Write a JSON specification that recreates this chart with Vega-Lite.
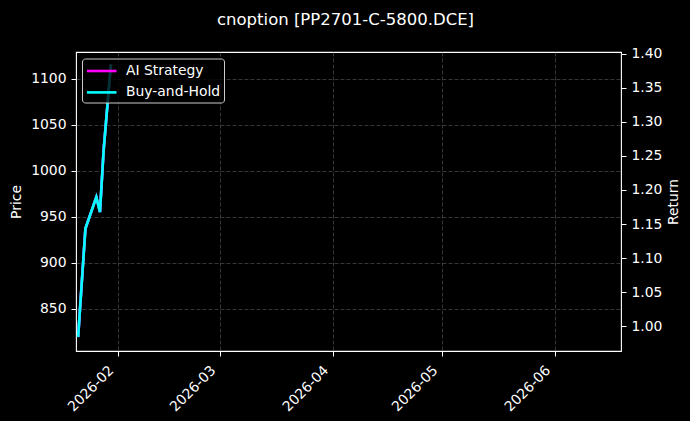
{
  "$schema": "https://vega.github.io/schema/vega-lite/v6.json",
  "description": "cnoption price and strategy returns, dark style with twin y axes",
  "width": 545,
  "height": 299,
  "autosize": {"type": "none"},
  "padding": {"left": 76, "top": 52, "right": 69, "bottom": 70},
  "background": "#000000",
  "title": {
    "text": "cnoption [PP2701-C-5800.DCE]",
    "color": "#ffffff",
    "font": "DejaVu Sans",
    "fontSize": 16.5,
    "fontWeight": "normal",
    "anchor": "middle",
    "baseline": "alphabetic",
    "offset": 5,
    "dx": -3
  },
  "datasets": {
    "price": [
      {"date": "2026-01-21T00:00:00", "price": 819.3},
      {"date": "2026-01-23T00:00:00", "price": 937.0},
      {"date": "2026-01-26T00:00:00", "price": 971.3},
      {"date": "2026-01-27T00:00:00", "price": 955.0},
      {"date": "2026-01-28T00:00:00", "price": 1022.1},
      {"date": "2026-01-30T00:00:00", "price": 1115.5}
    ],
    "returns": [
      {"date": "2026-01-21T00:00:00", "series": "AI Strategy", "ret": 0.9846},
      {"date": "2026-01-23T00:00:00", "series": "AI Strategy", "ret": 1.1433},
      {"date": "2026-01-26T00:00:00", "series": "AI Strategy", "ret": 1.1896},
      {"date": "2026-01-27T00:00:00", "series": "AI Strategy", "ret": 1.1676},
      {"date": "2026-01-28T00:00:00", "series": "AI Strategy", "ret": 1.2581},
      {"date": "2026-01-30T00:00:00", "series": "AI Strategy", "ret": 1.3843},
      {"date": "2026-01-21T00:00:00", "series": "Buy-and-Hold", "ret": 0.9846},
      {"date": "2026-01-23T00:00:00", "series": "Buy-and-Hold", "ret": 1.1433},
      {"date": "2026-01-26T00:00:00", "series": "Buy-and-Hold", "ret": 1.1896},
      {"date": "2026-01-27T00:00:00", "series": "Buy-and-Hold", "ret": 1.1676},
      {"date": "2026-01-28T00:00:00", "series": "Buy-and-Hold", "ret": 1.2581},
      {"date": "2026-01-30T00:00:00", "series": "Buy-and-Hold", "ret": 1.3843}
    ]
  },
  "encoding": {
    "x": {
      "field": "date",
      "type": "temporal",
      "title": null,
      "scale": {
        "domain": [
          {"year": 2026, "month": 1, "date": 20, "hours": 10},
          {"year": 2026, "month": 6, "date": 19, "hours": 3}
        ]
      },
      "axis": {
        "format": "%Y-%m",
        "tickCount": {"interval": "month", "step": 1},
        "labelAngle": -45,
        "labelAlign": "right",
        "labelBaseline": "middle",
        "labelPadding": 12,
        "labelOffset": -7,
        "grid": true
      }
    }
  },
  "layer": [
    {
      "data": {"name": "price"},
      "mark": {"type": "line", "color": "#00ffff", "strokeWidth": 2.6, "clip": true},
      "encoding": {
        "y": {
          "field": "price",
          "type": "quantitative",
          "title": "Price",
          "scale": {"domain": [804.3, 1128.9], "nice": false, "zero": false},
          "axis": {
            "orient": "left",
            "values": [850, 900, 950, 1000, 1050, 1100],
            "format": "d",
            "titlePadding": 7
          }
        }
      }
    },
    {
      "data": {"name": "returns"},
      "mark": {"type": "line", "strokeWidth": 2.6, "clip": true},
      "encoding": {
        "y": {
          "field": "ret",
          "type": "quantitative",
          "title": "Return",
          "scale": {"domain": [0.9638, 1.4023], "nice": false, "zero": false},
          "axis": {
            "orient": "right",
            "values": [1.0, 1.05, 1.1, 1.15, 1.2, 1.25, 1.3, 1.35, 1.4],
            "format": ".2f",
            "titleAngle": 270,
            "titleBaseline": "top",
            "titlePadding": 5
          }
        },
        "color": {
          "field": "series",
          "type": "nominal",
          "scale": {
            "domain": ["AI Strategy", "Buy-and-Hold"],
            "range": ["#ff00ff", "#00ffff"]
          },
          "legend": {
            "title": null,
            "orient": "none",
            "legendX": 6,
            "legendY": 6.5,
            "padding": 3,
            "fillColor": "rgba(0,0,0,0.8)",
            "strokeColor": "#cccccc",
            "cornerRadius": 3,
            "symbolType": "M-0.95,0L2.75,0",
            "symbolSize": 256,
            "symbolStrokeWidth": 2.6,
            "labelOffset": 22,
            "rowPadding": 4.4
          }
        },
        "order": {"field": "series", "sort": "ascending"}
      }
    }
  ],
  "resolve": {"scale": {"y": "independent"}, "axis": {"y": "independent"}},
  "config": {
    "view": {"stroke": "#ffffff", "strokeWidth": 1.1, "fill": "#000000"},
    "axis": {
      "domain": false,
      "tickColor": "#ffffff",
      "tickSize": 5,
      "tickWidth": 1,
      "labelColor": "#ffffff",
      "labelFont": "DejaVu Sans",
      "labelFontSize": 13.9,
      "labelPadding": 5,
      "titleColor": "#ffffff",
      "titleFont": "DejaVu Sans",
      "titleFontSize": 13.9,
      "titleFontWeight": "normal",
      "gridColor": "#5a5a5a",
      "gridDash": [4, 2],
      "gridWidth": 0.6
    },
    "legend": {
      "labelColor": "#ffffff",
      "labelFont": "DejaVu Sans",
      "labelFontSize": 13.9
    }
  }
}
